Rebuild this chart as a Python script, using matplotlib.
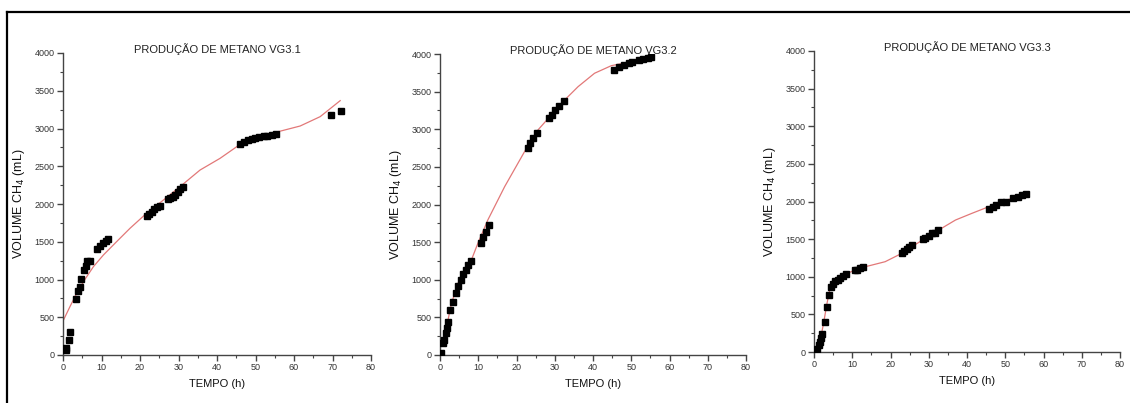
import numpy as np
import matplotlib
matplotlib.use("Agg")
import matplotlib.pyplot as plt
from matplotlib.lines import Line2D
from matplotlib.ticker import MultipleLocator

plt.rcParams["font.family"] = ["Liberation Sans", "DejaVu Sans"]

# VG3.1 medições
t1 = [0.7, 0.9, 1.5, 1.9, 3.5, 4.0, 4.3, 4.7, 5.4, 5.9, 6.3, 6.9,
      8.85, 9.5, 10.4, 11.1, 11.8,
      21.7, 22.3, 23.0, 23.6, 24.3, 25.2,
      27.3, 27.9, 28.6, 29.2, 29.9, 30.5, 31.2,
      46.0, 46.9, 48.0, 49.0, 49.9, 51.0, 52.1, 53.1, 54.2, 55.3,
      69.7, 72.3]
v1 = [70, 90, 195, 300, 740, 850, 905, 1010, 1130, 1185, 1240, 1245,
      1410, 1445, 1480, 1515, 1530,
      1840, 1870, 1895, 1930, 1955, 1980,
      2060, 2075, 2095, 2125, 2165, 2195, 2225,
      2790, 2815, 2845, 2855, 2870, 2890, 2900, 2900, 2910, 2925,
      3185, 3235]
fit_t1 = [0.0, 1.8, 3.55, 5.7, 7.9, 10.5, 13.9, 17.4, 21.7, 26.1, 30.4,
          35.6, 40.8, 46.0, 51.2, 55.9, 61.6, 66.8, 72.0]
fit_v1 = [450, 640, 817, 1002, 1170, 1325, 1500, 1678, 1877, 2053, 2230,
          2450, 2605, 2790, 2892, 2958, 3033, 3157, 3369]

# VG3.2 medições
t2 = [0.3, 0.9, 1.1, 1.5, 1.7, 2.0, 2.6, 3.5, 4.1, 4.8, 5.5, 6.1, 6.7, 7.4, 8.1,
      10.7, 11.3, 12.0, 12.7,
      22.9, 23.6, 24.4, 25.3,
      28.4, 29.2, 30.1, 31.0, 32.3,
      45.6, 46.7, 48.0, 49.3, 50.2, 51.9, 53.2, 54.4, 55.2]
v2 = [25, 160, 205, 290, 360, 445, 600, 710, 825, 920, 1000, 1080, 1130, 1190, 1245,
      1495, 1565, 1635, 1730,
      2755, 2815, 2880, 2945,
      3145, 3190, 3255, 3310, 3380,
      3790, 3830, 3855, 3875, 3890, 3920, 3930, 3945, 3955]
fit_t2 = [0.3, 1.2, 3.0, 4.7, 8.2, 9.9, 12.5, 16.9, 22.6, 25.6, 29.1,
          32.6, 36.1, 40.4, 44.8, 50.0, 55.2]
fit_v2 = [120, 244, 687, 953, 1262, 1484, 1794, 2237, 2747, 2990, 3190,
          3389, 3566, 3744, 3845, 3898, 3964]

# VG3.3 medições
t3 = [0.35, 0.9, 1.2, 1.6, 1.8, 2.2, 2.8, 3.4, 3.9, 4.4, 5.0, 5.6, 6.3, 6.9, 7.6, 8.3,
      10.6, 11.3, 12.0, 12.7,
      22.9, 23.5, 24.2, 24.9, 25.7,
      28.4, 29.1, 30.0, 30.9, 31.6, 32.5,
      45.7, 46.7, 47.7, 49.0, 50.2, 52.1, 53.4, 54.5, 55.4]
v3 = [10, 45, 90, 135, 190, 245, 400, 600, 755, 865, 910, 940, 960, 990, 1015, 1030,
      1085, 1095, 1110, 1130,
      1315, 1340, 1375, 1395, 1420,
      1500, 1520, 1545, 1575, 1585, 1615,
      1900, 1925, 1960, 1990, 2000, 2040, 2060, 2080, 2105]
fit_t3 = [0.35, 1.65, 2.5, 3.4, 4.3, 5.6, 8.2, 11.7, 15.2, 18.6, 22.6,
          25.6, 29.1, 32.6, 37.0, 41.3, 45.7, 50.0, 55.2]
fit_v3 = [0, 160, 381, 647, 868, 957, 1032, 1112, 1156, 1200, 1302,
          1400, 1511, 1621, 1754, 1843, 1931, 2011, 2100]

titles = ["PRODUÇÃO DE METANO VG3.1", "PRODUÇÃO DE METANO VG3.2", "PRODUÇÃO DE METANO VG3.3"]
series = [(t1, v1, fit_t1, fit_v1), (t2, v2, fit_t2, fit_v2), (t3, v3, fit_t3, fit_v3)]

# posições dos eixos em pixels (esquerda, topo, direita, base)
boxes = [(63, 53, 371, 355), (440, 54, 746, 355), (814, 51, 1120, 352)]
W, H = 1130, 403

fig = plt.figure(figsize=(11.3, 4.03), dpi=100)

axis_color = "#444444"
for (left, top, right, bottom), title, (t, v, ft, fv) in zip(boxes, titles, series):
    ax = fig.add_axes([left / W, 1 - bottom / H, (right - left) / W, (bottom - top) / H])
    ax.plot(ft, fv, color="#e27878", linewidth=0.9, zorder=2)
    ax.plot(t, v, linestyle="none", marker="s", markersize=4.0, color="black", zorder=3)

    ax.set_xlim(0, 80)
    ax.set_ylim(0, 4000)
    ax.xaxis.set_major_locator(MultipleLocator(10))
    ax.xaxis.set_minor_locator(MultipleLocator(5))
    ax.yaxis.set_major_locator(MultipleLocator(500))
    ax.yaxis.set_minor_locator(MultipleLocator(250))

    for side in ["top", "right"]:
        ax.spines[side].set_visible(False)
    for side in ["left", "bottom"]:
        ax.spines[side].set_color(axis_color)
        ax.spines[side].set_linewidth(1.0)
    ax.tick_params(which="major", direction="out", length=4, width=1.0,
                   color=axis_color, labelsize=6.5, labelcolor="#333333", pad=2)
    ax.tick_params(which="minor", direction="out", length=2, width=0.8, color=axis_color)

    ax.set_title(title, fontsize=8, color="#222222", pad=0, y=1.0)
    ax.set_xlabel("TEMPO (h)", fontsize=8, color="#111111", labelpad=5)
    ax.set_ylabel("VOLUME CH$_4$ (mL)", fontsize=9, color="#111111")
    ax.yaxis.set_label_coords(-36 / (right - left), 0.5)

# moldura preta (topo e esquerda)
fig.add_artist(Line2D([6.5 / W, 1.0], [1 - 11.5 / H, 1 - 11.5 / H], color="black", linewidth=1.6))
fig.add_artist(Line2D([6.5 / W, 6.5 / W], [0.0, 1 - 11.5 / H], color="black", linewidth=1.6))

fig.savefig("out.png", dpi=100, facecolor="white")
